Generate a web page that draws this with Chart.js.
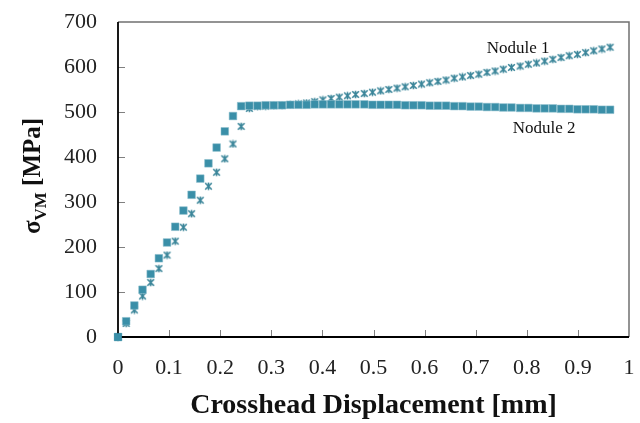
<!DOCTYPE html>
<html>
<head>
<meta charset="utf-8">
<script src="https://cdn.jsdelivr.net/npm/chart.js@4.4.1/dist/chart.umd.min.js"></script>
<style>
  html, body { margin: 0; padding: 0; background: #ffffff; }
  #wrap { width: 640px; height: 423px; position: relative; }
</style>
</head>
<body>
<div id="wrap"><canvas id="c" width="640" height="423"></canvas></div>
<script>
// ---- Data ----
const xValues = [0, 0.016, 0.032, 0.048, 0.064, 0.080, 0.096, 0.112, 0.128, 0.144,
  0.161, 0.177, 0.193, 0.209, 0.225, 0.241, 0.257, 0.273, 0.289, 0.305,
  0.321, 0.337, 0.353, 0.369, 0.385, 0.401, 0.417, 0.433, 0.449, 0.465,
  0.482, 0.498, 0.514, 0.530, 0.546, 0.562, 0.578, 0.594, 0.610, 0.626,
  0.642, 0.658, 0.674, 0.690, 0.706, 0.722, 0.738, 0.754, 0.770, 0.787,
  0.803, 0.819, 0.835, 0.851, 0.867, 0.883, 0.899, 0.915, 0.931, 0.947, 0.963];
const nodule1 = [0, 30, 60, 91, 121, 152, 182, 213, 244, 274,
  304, 335, 366, 396, 429, 468, 508, 512, 513, 514,
  515, 516, 518, 520, 523, 527, 530, 533, 536, 539,
  541, 544, 547, 550, 553, 556, 559, 562, 565, 568,
  571, 575, 578, 581, 584, 588, 591, 595, 599, 602,
  606, 609, 613, 617, 621, 625, 628, 632, 636, 640, 644];
const nodule2 = [0, 35, 70, 105, 140, 175, 210, 245, 281, 316,
  352, 386, 421, 457, 491, 513, 514, 514, 515, 515,
  515, 516, 516, 516, 517, 517, 517, 517, 517, 517,
  517, 516, 516, 516, 516, 515, 515, 515, 514, 514,
  514, 513, 513, 512, 512, 511, 511, 510, 510, 509,
  509, 508, 508, 508, 507, 507, 506, 506, 506, 505, 505];
const xTickLabels = ['0', '0.1', '0.2', '0.3', '0.4', '0.5', '0.6', '0.7', '0.8', '0.9', '1'];
const yTickLabels = ['0', '100', '200', '300', '400', '500', '600', '700'];
const seriesNames = ['Nodule 1', 'Nodule 2'];
const labelPos = [[0.783, 642], [0.834, 464]];

const TEAL = '#3a8fa8';
const SERIF = '"Liberation Serif", "Times New Roman", serif';

// star marker (asterisk-like: X plus vertical bar)
function makeStar() {
  const s = 9, c = document.createElement('canvas');
  c.width = s; c.height = s;
  const g = c.getContext('2d');
  g.strokeStyle = '#3a8599';
  g.lineWidth = 1.6;
  g.beginPath();
  g.moveTo(1.2, 1.2); g.lineTo(7.8, 7.8);
  g.moveTo(7.8, 1.2); g.lineTo(1.2, 7.8);
  g.moveTo(4.5, 0.8); g.lineTo(4.5, 8.2);
  g.stroke();
  return c;
}
const starImg = makeStar();

const toPoints = (ys) => ys.map((y, i) => ({ x: xValues[i], y: y }));

const framePlugin = {
  id: 'frame',
  afterDraw(chart) {
    const { ctx, chartArea: a, scales } = chart;
    const xs = scales.x, ys = scales.y;
    ctx.save();
    // inward ticks
    ctx.strokeStyle = '#808080';
    ctx.lineWidth = 1;
    for (let i = 1; i < xTickLabels.length - 1; i++) {
      const px = Math.round(xs.getPixelForValue(i / 10)) + 0.5;
      ctx.beginPath(); ctx.moveTo(px, a.bottom); ctx.lineTo(px, a.bottom - 7); ctx.stroke();
    }
    for (let i = 1; i < yTickLabels.length - 1; i++) {
      const py = Math.round(ys.getPixelForValue(i * 100)) + 0.5;
      ctx.beginPath(); ctx.moveTo(a.left, py); ctx.lineTo(a.left + 7, py); ctx.stroke();
    }
    // top & right border gray
    ctx.strokeStyle = '#707070';
    ctx.lineWidth = 1.5;
    ctx.beginPath();
    ctx.moveTo(a.left, a.top); ctx.lineTo(a.right, a.top); ctx.lineTo(a.right, a.bottom);
    ctx.stroke();
    // left & bottom black
    ctx.strokeStyle = '#000000';
    ctx.lineWidth = 1.8;
    ctx.beginPath();
    ctx.moveTo(a.left, a.top); ctx.lineTo(a.left, a.bottom); ctx.lineTo(a.right, a.bottom);
    ctx.stroke();

    // origin marker on top of axes (as in reference)
    const ox = xs.getPixelForValue(xValues[0]), oy = ys.getPixelForValue(nodule2[0]);
    ctx.fillStyle = TEAL;
    ctx.fillRect(ox - 3.8, oy - 3.8, 7.6, 7.6);

    // series labels
    ctx.fillStyle = '#111';
    ctx.font = '17px ' + SERIF;
    ctx.textAlign = 'center';
    ctx.textBaseline = 'middle';
    seriesNames.forEach((n, i) => {
      ctx.fillText(n, xs.getPixelForValue(labelPos[i][0]), ys.getPixelForValue(labelPos[i][1]));
    });

    // y title with subscript
    ctx.translate(30, 176);
    ctx.rotate(-Math.PI / 2);
    ctx.textAlign = 'left';
    ctx.textBaseline = 'alphabetic';
    const fMain = 'bold 25px ' + SERIF, fSub = 'bold 17px ' + SERIF;
    ctx.font = fMain; const w1 = ctx.measureText('σ').width;
    ctx.font = fSub; const w2 = ctx.measureText('VM').width;
    ctx.font = fMain; const w3 = ctx.measureText(' [MPa]').width;
    let x0 = -(w1 + w2 + w3) / 2;
    const base = 10;
    ctx.fillStyle = '#111';
    ctx.font = fMain; ctx.fillText('σ', x0, base); x0 += w1;
    ctx.font = fSub; ctx.fillText('VM', x0, base + 6); x0 += w2;
    ctx.font = fMain; ctx.fillText(' [MPa]', x0, base);
    ctx.restore();
  }
};

new Chart(document.getElementById('c'), {
  type: 'scatter',
  data: {
    datasets: [
      {
        label: seriesNames[0],
        data: toPoints(nodule1),
        pointStyle: starImg,
        pointRadius: 4.5,
        backgroundColor: TEAL,
        borderColor: TEAL,
        clip: false,
        order: 2
      },
      {
        label: seriesNames[1],
        data: toPoints(nodule2),
        pointStyle: 'rect',
        pointRadius: 5.4,
        backgroundColor: TEAL,
        borderColor: 'rgba(140,190,205,0.9)',
        pointBorderWidth: 0.6,
        clip: false,
        order: 1
      }
    ]
  },
  options: {
    responsive: false,
    animation: false,
    events: [],
    layout: { padding: { top: 22, right: 11, left: 0, bottom: 0 } },
    plugins: { legend: { display: false }, tooltip: { enabled: false } },
    scales: {
      x: {
        type: 'linear',
        min: 0, max: 1,
        border: { display: false },
        grid: { display: false, drawTicks: false },
        ticks: {
          stepSize: 0.1,
          padding: 18,
          color: '#222',
          font: { family: SERIF, size: 22 },
          maxRotation: 0,
          autoSkip: false,
          callback: (v) => xTickLabels[Math.round(v * 10)]
        },
        title: {
          display: true,
          text: 'Crosshead Displacement [mm]',
          color: '#111',
          font: { family: SERIF, size: 28, weight: 'bold' },
          padding: { top: 6, bottom: 0 }
        },
        afterFit: (s) => { s.height = 86; s.paddingLeft = 0; s.paddingRight = 0; }
      },
      y: {
        type: 'linear',
        min: 0, max: 700,
        border: { display: false },
        grid: { display: false, drawTicks: false },
        ticks: {
          stepSize: 100,
          padding: 21,
          color: '#222',
          font: { family: SERIF, size: 22 },
          callback: (v) => yTickLabels[Math.round(v / 100)]
        },
        afterFit: (s) => { s.width = 118; s.paddingTop = 0; s.paddingBottom = 0; }
      }
    }
  },
  plugins: [framePlugin]
});
</script>
</body>
</html>
